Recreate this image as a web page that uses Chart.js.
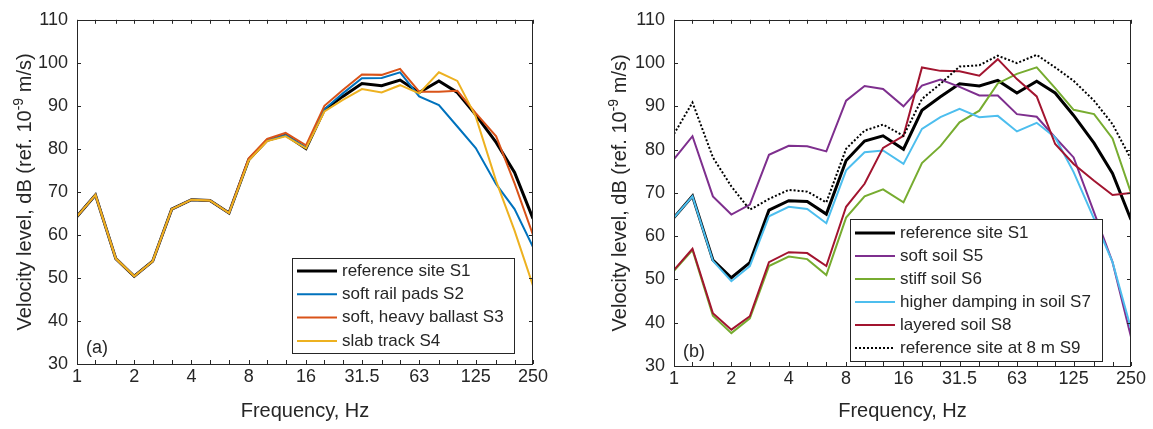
<!DOCTYPE html>
<html>
<head>
<meta charset="utf-8">
<script src="https://cdn.jsdelivr.net/npm/chart.js@4.4.1/dist/chart.umd.min.js"></script>
<style>
  html, body { margin: 0; padding: 0; background: #ffffff; }
  #wrap { position: relative; width: 1153px; height: 429px; overflow: hidden; }
  canvas { position: absolute; top: 0; }
</style>
</head>
<body>
<div id="wrap">
  <canvas id="panelA" width="576" height="429" style="left:0px"></canvas>
  <canvas id="panelB" width="577" height="429" style="left:576px"></canvas>
</div>
<script>
// One-third octave band centre frequencies, Hz
const frequencies = [1, 1.25, 1.6, 2, 2.5, 3.15, 4, 5, 6.3, 8, 10, 12.5, 16, 20, 25, 31.5, 40, 50, 63, 80, 100, 125, 160, 200, 250];
const xTickValues = [1, 2, 4, 8, 16, 31.5, 63, 125, 250];
const xTickLabels = ['1', '2', '4', '8', '16', '31.5', '63', '125', '250'];
const yTickValues = [30, 40, 50, 60, 70, 80, 90, 100, 110];

// Velocity levels, dB re 1e-9 m/s
const s1Reference   = [64.3, 69.3, 54.5, 50.4, 53.9, 66.0, 68.2, 68.0, 65.1, 77.5, 82.0, 83.2, 80.1, 89.1, 92.2, 95.2, 94.7, 96.0, 93.1, 95.8, 93.1, 87.9, 81.5, 74.5, 63.8];
const s2SoftPads    = [64.3, 69.3, 54.5, 50.4, 53.9, 66.0, 68.2, 68.0, 65.1, 77.5, 82.0, 83.2, 80.3, 89.2, 92.9, 96.4, 96.5, 97.8, 92.2, 90.2, 85.2, 80.2, 71.8, 66.0, 57.2];
const s3HeavyBallast= [64.3, 69.3, 54.5, 50.4, 53.9, 66.0, 68.2, 68.0, 65.1, 77.8, 82.3, 83.7, 80.8, 90.0, 93.7, 97.3, 97.2, 98.6, 93.3, 93.3, 93.5, 88.3, 82.9, 72.0, 60.0];
const s4SlabTrack   = [64.3, 69.3, 54.5, 50.4, 53.9, 66.0, 68.2, 68.0, 65.1, 77.3, 81.8, 82.9, 80.1, 88.7, 91.4, 93.9, 93.1, 94.8, 92.9, 97.8, 95.8, 87.5, 72.5, 61.0, 48.2];
const s5SoftSoil    = [77.8, 83.1, 69.2, 65.0, 67.3, 78.8, 80.9, 80.8, 79.6, 91.3, 94.7, 94.0, 90.0, 94.8, 96.2, 94.5, 92.5, 92.5, 88.2, 87.6, 82.8, 78.2, 65.5, 54.0, 36.7];
const s6StiffSoil   = [52.0, 56.8, 41.6, 37.6, 41.0, 53.1, 55.3, 54.7, 51.0, 64.3, 69.2, 70.8, 67.8, 76.9, 80.8, 86.3, 89.0, 95.3, 97.5, 99.0, 94.2, 89.2, 88.2, 82.6, 70.0];
const s7Damping     = [64.3, 69.2, 54.3, 49.6, 53.1, 64.6, 66.8, 66.3, 63.0, 75.2, 79.4, 79.8, 76.7, 84.8, 87.5, 89.4, 87.5, 87.8, 84.2, 86.2, 82.8, 74.8, 64.0, 54.0, 38.6];
const s8Layered     = [52.2, 57.1, 42.2, 38.4, 41.5, 54.0, 56.3, 56.1, 53.1, 66.8, 72.1, 80.4, 83.2, 99.0, 98.2, 98.1, 97.1, 100.9, 96.3, 92.3, 81.3, 76.7, 72.8, 69.5, 70.0];
const s9At8m        = [83.6, 90.9, 78.2, 71.5, 66.1, 68.6, 70.7, 70.3, 67.8, 80.2, 84.4, 85.8, 83.2, 91.7, 95.2, 99.2, 99.5, 101.7, 100.0, 101.9, 99.0, 95.9, 91.3, 85.9, 77.8];

const FONT = "'Liberation Sans', Arial, Helvetica, sans-serif";
const INK = '#262626';
Chart.defaults.font.family = FONT;
Chart.defaults.color = INK;

function toPoints(values) {
  return frequencies.map((f, i) => ({ x: f, y: values[i] }));
}

function series(label, values, color, width, order, dash) {
  return {
    label,
    data: toPoints(values),
    borderColor: color,
    backgroundColor: color,
    borderWidth: width,
    borderDash: dash || [],
    pointRadius: 0,
    tension: 0,
    fill: false,
    order
  };
}

// Axes box, inward tick marks, axis titles, panel tag and in-plot legend
const framePlugin = {
  id: 'frame',
  afterDatasetsDraw(chart, args, opts) {
    const { ctx, chartArea: ca, scales } = chart;
    const xs = scales.x, ys = scales.y;
    const tickLen = 4;
    ctx.save();
    ctx.strokeStyle = INK;
    ctx.lineWidth = 1;
    ctx.setLineDash([]);
    ctx.beginPath();
    frequencies.forEach(f => {
      const px = Math.round(xs.getPixelForValue(f)) + 0.5;
      ctx.moveTo(px, ca.bottom); ctx.lineTo(px, ca.bottom - tickLen);
      ctx.moveTo(px, ca.top); ctx.lineTo(px, ca.top + tickLen);
    });
    yTickValues.forEach(v => {
      const py = Math.round(ys.getPixelForValue(v)) + 0.5;
      ctx.moveTo(ca.left, py); ctx.lineTo(ca.left + tickLen, py);
      ctx.moveTo(ca.right, py); ctx.lineTo(ca.right - tickLen, py);
    });
    ctx.stroke();
    ctx.strokeRect(Math.round(ca.left) + 0.5, Math.round(ca.top) + 0.5,
                   Math.round(ca.width) - 1, Math.round(ca.height));

    // panel tag
    ctx.fillStyle = INK;
    ctx.font = '18px ' + FONT;
    ctx.textAlign = 'left';
    ctx.textBaseline = 'middle';
    ctx.fillText(opts.tag, ca.left + opts.tagDx, ca.bottom - opts.tagDy);

    // x axis title
    ctx.font = '20px ' + FONT;
    ctx.textAlign = 'center';
    ctx.textBaseline = 'middle';
    ctx.fillText('Frequency, Hz', (ca.left + ca.right) / 2, opts.xTitleY);

    // y axis title with superscript exponent
    const parts = [
      { t: 'Velocity level, dB (ref. 10', size: 20, rise: 0 },
      { t: '-9', size: 14, rise: 8 },
      { t: ' m/s)', size: 20, rise: 0 }
    ];
    let total = 0;
    parts.forEach(p => { ctx.font = p.size + 'px ' + FONT; p.w = ctx.measureText(p.t).width; total += p.w; });
    ctx.translate(opts.yTitleX, (ca.top + ca.bottom) / 2);
    ctx.rotate(-Math.PI / 2);
    ctx.textAlign = 'left';
    ctx.textBaseline = 'alphabetic';
    let cx = -total / 2;
    parts.forEach(p => {
      ctx.font = p.size + 'px ' + FONT;
      ctx.fillText(p.t, cx, 7 - p.rise);
      cx += p.w;
    });
    ctx.setTransform(1, 0, 0, 1, 0, 0);

    // legend
    const lg = opts.legend;
    ctx.fillStyle = '#ffffff';
    ctx.fillRect(lg.x, lg.y, lg.w, lg.h);
    ctx.strokeStyle = INK;
    ctx.lineWidth = 1;
    ctx.strokeRect(lg.x + 0.5, lg.y + 0.5, lg.w, lg.h);
    ctx.font = '17px ' + FONT;
    ctx.textAlign = 'left';
    ctx.textBaseline = 'middle';
    chart.data.datasets.forEach((ds, i) => {
      const ry = lg.y + lg.firstRow + i * lg.rowGap;
      ctx.strokeStyle = ds.borderColor;
      ctx.lineWidth = ds.borderWidth;
      ctx.setLineDash(ds.borderDash || []);
      ctx.beginPath();
      ctx.moveTo(lg.x + 5, ry);
      ctx.lineTo(lg.x + 45, ry);
      ctx.stroke();
      ctx.setLineDash([]);
      ctx.fillStyle = INK;
      ctx.fillText(ds.label, lg.x + 50, ry);
    });
    ctx.restore();
  }
};

function makeOptions(pad, yWidth, xHeight, frame) {
  return {
    responsive: false,
    animation: false,
    devicePixelRatio: 1,
    layout: { padding: pad },
    plugins: {
      legend: { display: false },
      tooltip: { enabled: false },
      frame
    },
    scales: {
      x: {
        type: 'logarithmic',
        min: 1,
        max: 250,
        grid: { display: false, drawTicks: false },
        border: { display: false },
        afterBuildTicks: scale => { scale.ticks = xTickValues.map(v => ({ value: v })); },
        afterFit: scale => { scale.height = xHeight; },
        ticks: {
          autoSkip: false,
          maxRotation: 0,
          padding: 2,
          font: { size: 18 },
          color: INK,
          callback: value => {
            const i = xTickValues.indexOf(value);
            return i >= 0 ? xTickLabels[i] : '';
          }
        }
      },
      y: {
        type: 'linear',
        min: 30,
        max: 110,
        grid: { display: false, drawTicks: false },
        border: { display: false },
        afterBuildTicks: scale => { scale.ticks = yTickValues.map(v => ({ value: v })); },
        afterFit: scale => { scale.width = yWidth; },
        ticks: { padding: 9, font: { size: 18 }, color: INK }
      }
    }
  };
}

new Chart(document.getElementById('panelA'), {
  type: 'line',
  data: {
    datasets: [
      series('reference site S1', s1Reference, '#000000', 3, 4),
      series('soft rail pads S2', s2SoftPads, '#0072BD', 2, 3),
      series('soft, heavy ballast S3', s3HeavyBallast, '#D95319', 2, 2),
      series('slab track S4', s4SlabTrack, '#EDB120', 2, 1)
    ]
  },
  plugins: [framePlugin],
  options: makeOptions({ top: 15, right: 43, left: 0, bottom: 0 }, 77, 65, {
    tag: '(a)', tagDx: 9, tagDy: 16,
    xTitleY: 411,
    yTitleX: 24,
    legend: { x: 292, y: 258, w: 222, h: 95, firstRow: 13, rowGap: 23.3 }
  })
});

new Chart(document.getElementById('panelB'), {
  type: 'line',
  data: {
    datasets: [
      series('reference site S1', s1Reference, '#000000', 3, 6),
      series('soft soil S5', s5SoftSoil, '#7E2F8E', 2, 5),
      series('stiff soil S6', s6StiffSoil, '#77AC30', 2, 4),
      series('higher damping in soil S7', s7Damping, '#4DBEEE', 2, 3),
      series('layered soil S8', s8Layered, '#A2142F', 2, 2),
      series('reference site at 8 m S9', s9At8m, '#000000', 2, 1, [2, 2])
    ]
  },
  plugins: [framePlugin],
  options: makeOptions({ top: 19, right: 22, left: 0, bottom: 0 }, 98, 63, {
    tag: '(b)', tagDx: 9, tagDy: 14,
    xTitleY: 411,
    yTitleX: 43,
    legend: { x: 274, y: 219, w: 252, h: 142, firstRow: 14, rowGap: 23 }
  })
});
</script>
</body>
</html>
